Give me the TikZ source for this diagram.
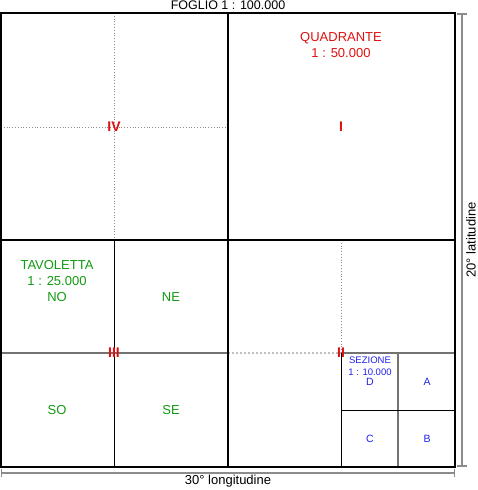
\documentclass[tikz,border=0pt]{standalone}
\usepackage{fontspec}
\setmainfont{Liberation Sans}
\usetikzlibrary{arrows}
\definecolor{quadred}{HTML}{DD1111}
\definecolor{tavgreen}{HTML}{119911}
\definecolor{sezblue}{HTML}{2020EE}

\begin{document}
\begin{tikzpicture}[x=1pt,y=-1pt]
                % define styles
\tikzset{frame/.style={draw=black,
                       line width=2pt,
                       },
         midline/.style={draw=black,
                       line width=1.2pt,
                       },
         thin/.style={draw=black,
                       line width=0.9pt,
                       },
         greyline/.style={draw=black!55,
                       line width=2pt,
                       },
         dots/.style={draw=black!45,
                       dotted,
                       line width=0.8pt,
                       },
         measure/.style={draw=black!45,
                       line width=1.6pt,
                       |-|,
                       },
         roman/.style={text=quadred,
                       inner sep=0,
                       font=\bfseries\fontsize{14}{14}\selectfont,
                       },
         quadtext/.style={text=quadred,
                       align=center,
                       inner sep=0,
                       font=\fontsize{13}{16}\selectfont,
                       },
         tavtext/.style={text=tavgreen,
                       align=center,
                       inner sep=0,
                       font=\fontsize{13}{16}\selectfont,
                       },
         seztext/.style={text=sezblue,
                       align=center,
                       inner sep=0,
                       font=\fontsize{9.5}{12.5}\selectfont,
                       },
         sezletter/.style={text=sezblue,
                       inner sep=0,
                       font=\fontsize{10.5}{10.5}\selectfont,
                       }
}

\useasboundingbox (0,0) rectangle (477,490);

% corners of the sheet
\coordinate (nw) at (1,13);
\coordinate (se) at (455,467);

% grid points
\coordinate (top) at (228,13);
\coordinate (bot) at (228,467);
\coordinate (lft) at (1,240);
\coordinate (rgt) at (455,240);

% quadrant IV (dotted)
\draw[dots] (114,13) -- (114,240);
\draw[dots] (1,127) -- (228,127);

% quadrant III (tavolette)
\draw[thin] (114,240) -- (114,467);
\draw[greyline] (1,353) -- (228,353);

% quadrant II
\draw[dots] (341,240) -- (341,353);
\draw[dots,line width=2pt,draw=black!25] (228,353) -- (341,353);

% sezioni
\draw[greyline] (341,353) -- (455,353);
\draw[thin] (341,353) -- (341,467);
\draw[greyline,line width=1.5pt] (398,353) -- (398,467);
\draw[thin] (341,410) -- (455,410);

% main cross
\draw[midline] (top) -- (bot);
\draw[midline] (lft) -- (rgt);
\draw[frame] (nw) rectangle (se);

% measures
\coordinate (m-n) at (462,13);
\coordinate (m-s) at (462,467);
\coordinate (m-w) at (1,473);
\coordinate (m-e) at (455,473);
\draw[measure] (m-n) -- (m-s);
\draw[measure,line width=1.2pt] (m-w) -- (m-e);

% labels
\node[font=\fontsize{12.5}{12.5}\selectfont,inner sep=0] (foglio) at (228,5.5) {FOGLIO 1 : 100.000};
\node[font=\fontsize{13}{13}\selectfont,inner sep=0] (lon) at (228,481) {30° longitudine};
\node[font=\fontsize{13}{13}\selectfont,inner sep=0,rotate=90] (lat) at (471,240) {20° latitudine};

\node[quadtext] (quad) at (341,45) {QUADRANTE\\1 : 50.000};
\node[roman] (q1) at (341,127) {I};
\node[roman] (q2) at (341,353) {II};
\node[roman] (q3) at (114,353) {III};
\node[roman] (q4) at (114,127) {IV};

\node[tavtext] (tav) at (57,281) {TAVOLETTA\\1 : 25.000\\NO};
\node[tavtext] (ne) at (171,297) {NE};
\node[tavtext] (so) at (57,410) {SO};
\node[tavtext] (se-t) at (171,410) {SE};

\node[seztext] (sez) at (370,366) {SEZIONE\\1 : 10.000};
\node[sezletter] (d) at (370,382) {D};
\node[sezletter] (a) at (427,382) {A};
\node[sezletter] (c) at (370,439) {C};
\node[sezletter] (b) at (427,439) {B};

\end{tikzpicture}
\end{document}
